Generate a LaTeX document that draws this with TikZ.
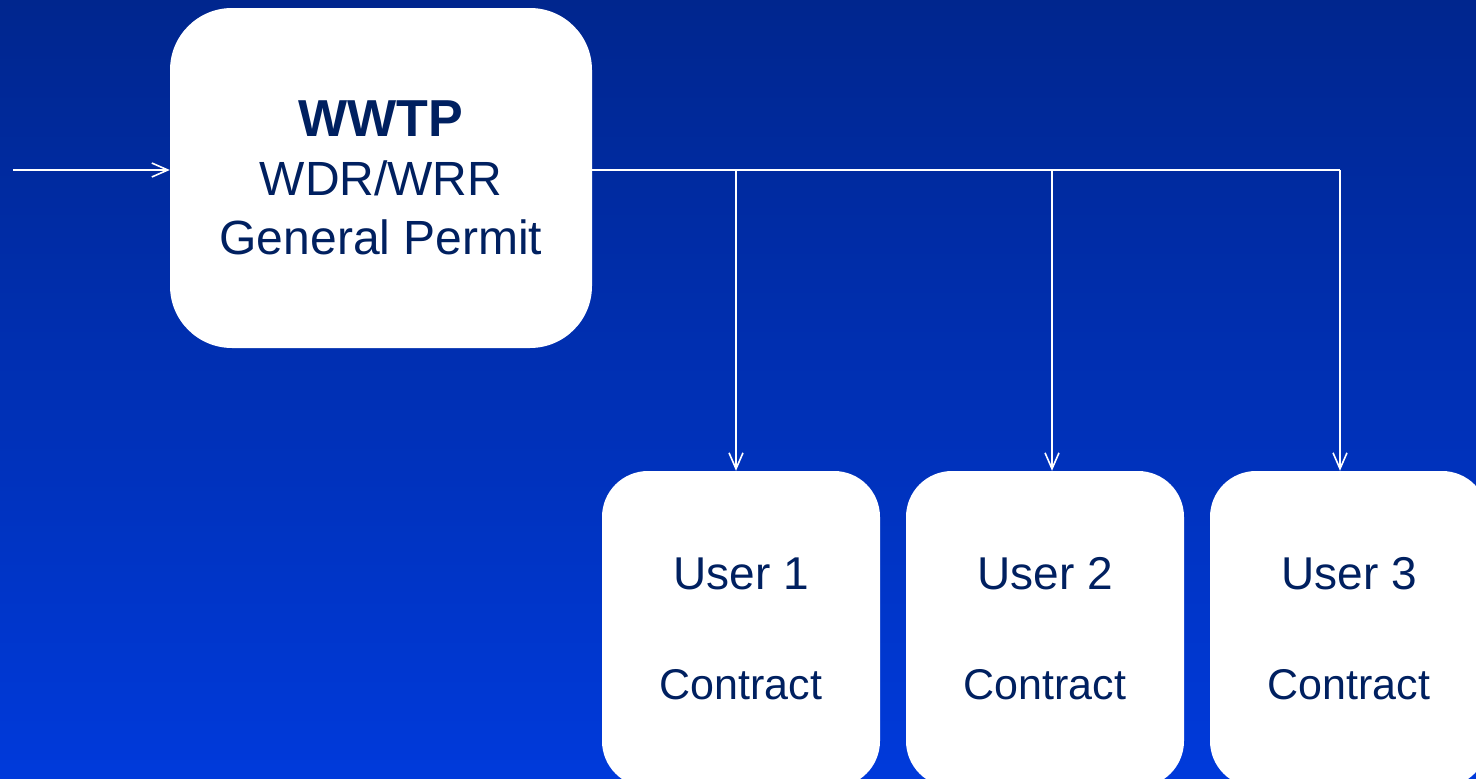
\documentclass[tikz,border=0pt]{standalone}
\usepackage{fontspec}
\setmainfont{Liberation Sans}
\usetikzlibrary{arrows.meta}
\definecolor{navy}{HTML}{002060}
\definecolor{bgtop}{HTML}{00268E}
\definecolor{bgbot}{HTML}{003ADB}
\begin{document}
\begin{tikzpicture}[x=1pt,y=-1pt,
  box/.style={fill=white, draw=none, text=navy, align=center, inner sep=0pt},
  mainbox/.style={box, minimum width=422pt, minimum height=340pt, rounded corners=62pt,
    font=\fontsize{48}{59}\selectfont},
  userbox/.style={box, minimum width=278pt, minimum height=316pt, rounded corners=46pt,
    font=\fontsize{46}{110}\selectfont},
  link/.style={draw=white, line width=1.8pt},
  flow/.style={link, -{Straight Barb[length=16pt,width=14pt,line width=1.6pt]}}]
\useasboundingbox (0,0) rectangle (1476,779);
\shade[top color=bgtop, bottom color=bgbot] (0,0) rectangle (1476,779);
\clip (0,0) rectangle (1476,779);

\node[mainbox] (wwtp) at (381,178) {{\fontsize{52}{59}\selectfont\bfseries WWTP}\\WDR/WRR\\General Permit};
\node[userbox] (u1) at (741,629) {User 1\\{\fontsize{43}{110}\selectfont Contract}};
\node[userbox] (u2) at (1045,629) {User 2\\{\fontsize{43}{110}\selectfont Contract}};
\node[userbox] (u3) at (1349,629) {User 3\\{\fontsize{43}{110}\selectfont Contract}};

\coordinate (in) at (13,170);
\coordinate (b1) at (736,170);
\coordinate (b2) at (1052,170);
\coordinate (b3) at (1340,170);

\draw[flow] (in) -- (in -| wwtp.west);
\draw[link] (in -| wwtp.east) -- (b3);
\draw[flow] (b1) -- (b1 |- u1.north);
\draw[flow] (b2) -- (b2 |- u2.north);
\draw[flow] (b3) -- (b3 |- u3.north);
\end{tikzpicture}
\end{document}
